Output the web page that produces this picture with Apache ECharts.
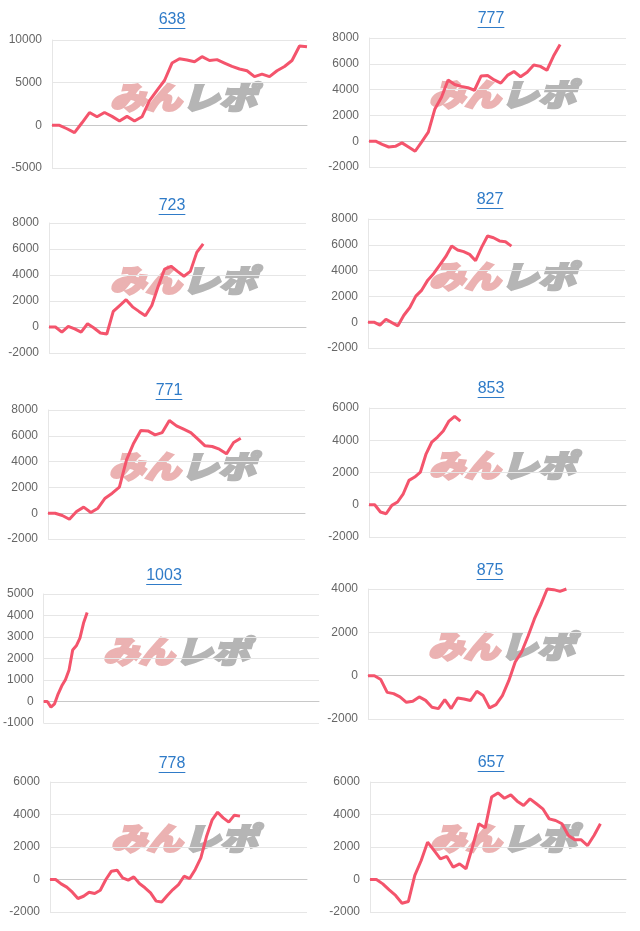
<!DOCTYPE html>
<html>
<head>
<meta charset="utf-8">
<script src="https://cdn.jsdelivr.net/npm/echarts@6/dist/echarts.min.js"></script>
<style>
  html, body { margin: 0; padding: 0; background: #fff; }
  #chart { width: 640px; height: 931px; }
</style>
</head>
<body>
<div id="chart"></div>
<script>
// machine numbers (chart titles)
const titles = ['638', '777', '723', '827', '771', '853', '1003', '875', '778', '657']

// how many slots each x axis has
const slotCounts = [35, 40, 41, 44, 37, 46, 77, 41, 47, 41]

// y axis ticks
const yMins = [-5000, -2000, -2000, -2000, -2000, -2000, -1000, -2000, -2000, -2000]
const yMaxs = [10000, 8000, 8000, 8000, 8000, 6000, 5000, 4000, 6000, 6000]
const ySteps = [5000, 2000, 2000, 2000, 2000, 2000, 1000, 2000, 2000, 2000]

// payout per machine
const data638 = [0, 0, -400, -850, 300, 1500, 1000, 1500, 1050, 500, 1050, 500, 1000, 2900, 4100, 5250, 7300, 7800, 7650, 7450, 8050, 7600, 7700, 7300, 6900, 6600, 6400, 5700, 6000, 5700, 6400, 6900, 7600, 9300, 9200]
const data777 = [0, 0, -250, -450, -400, -130, -450, -780, -50, 700, 2500, 3400, 4750, 4400, 4250, 4150, 3950, 5050, 5100, 4750, 4500, 5100, 5400, 5000, 5350, 5900, 5800, 5500, 6600, 7500]
const data723 = [0, 0, -400, 50, -150, -400, 250, -80, -460, -540, 1200, 1650, 2100, 1550, 1200, 870, 1650, 3130, 4460, 4670, 4280, 3900, 4280, 5740, 6400]
const data827 = [0, 0, -230, 230, -30, -280, 540, 1140, 2020, 2490, 3260, 3780, 4430, 5080, 5900, 5600, 5470, 5260, 4770, 5800, 6680, 6550, 6300, 6240, 5900]
const data771 = [0, 0, -180, -470, 130, 470, 50, 390, 1160, 1550, 2020, 4130, 5430, 6410, 6380, 6070, 6250, 7180, 6770, 6510, 6250, 5740, 5220, 5170, 4960, 4600, 5480, 5810]
const data853 = [0, 0, -450, -560, -40, 170, 680, 1510, 1720, 2030, 3160, 3890, 4200, 4570, 5190, 5480, 5190]
const data1003 = [0, 0, -260, -110, 360, 730, 1010, 1470, 2400, 2590, 2950, 3650, 4140]
const data875 = [0, 0, -180, -770, -830, -980, -1230, -1180, -980, -1140, -1460, -1520, -1110, -1520, -1030, -1080, -1150, -720, -920, -1490, -1340, -920, -230, 630, 1090, 1820, 2620, 3280, 4000, 3970, 3890, 4000]
const data778 = [0, 0, -270, -470, -780, -1170, -1030, -780, -860, -660, 0, 510, 570, 100, -40, 160, -250, -510, -820, -1330, -1390, -980, -620, -310, 200, 60, 620, 1330, 2630, 3650, 4140, 3790, 3530, 3960, 3900]
const data657 = [0, 0, -270, -640, -980, -1460, -1350, 250, 1170, 2300, 1790, 1270, 1420, 760, 960, 660, 1990, 3430, 3180, 5070, 5330, 5000, 5210, 4820, 4550, 4960, 4660, 4350, 3730, 3630, 3430, 2710, 2440, 2440, 2090, 2710, 3430]

const allData = [data638, data777, data723, data827, data771, data853, data1003, data875, data778, data657]

// layout: plot boxes [x0, y0, x1, y1], title centres, watermark centres
const boxes = [
    [52, 40, 307, 168], [369, 38, 626, 167],
    [49, 223, 306, 353], [368, 219, 625, 348],
    [48, 410, 305, 539], [369, 408, 626, 537],
    [42, 594, 319, 723], [368, 589, 624, 719],
    [50, 782, 307, 912], [370, 782, 626, 912]
]
const titlePos = [
    [172, 21], [491, 20], [172, 207], [490, 201], [169, 392],
    [491, 390], [164, 577], [490, 572], [172, 765], [491, 764]
]
const markPos = [
    [188, 97], [507, 94], [188, 280], [507, 276], [187, 466],
    [507, 465], [181, 651], [506, 646], [189, 838], [508, 838]
]

const LINK = '#2f7bc8'
const LINE = '#f4546c'
const TITLE_SIZE = 16
const MARK_FONT = 'italic 900 31px "Noto Sans CJK JP"'

const grids = [], xAxes = [], yAxes = [], series = [], titleList = [], graphics = []

titles.forEach((name, i) => {
    const [x0, y0, x1, y1] = boxes[i]
    grids.push({ left: x0, top: y0, width: x1 - x0, height: y1 - y0 })
    xAxes.push({
        type: 'category',
        gridIndex: i,
        boundaryGap: false,
        data: Array.from({ length: slotCounts[i] }, (_, k) => String(k + 1)),
        axisLine: { show: true, onZero: true, lineStyle: { color: '#c8c8c8', width: 1 } },
        axisTick: { show: false },
        axisLabel: { show: false },
        splitLine: { show: false }
    })
    yAxes.push({
        type: 'value',
        gridIndex: i,
        min: yMins[i],
        max: yMaxs[i],
        interval: ySteps[i],
        axisLine: { show: true, lineStyle: { color: '#e6e6e6' } },
        axisTick: { show: false },
        axisLabel: {
            color: '#666',
            fontSize: 12,
            margin: 10,
            fontFamily: 'Liberation Sans, Arial, sans-serif',
            formatter: (v) => String(v)
        },
        splitLine: { lineStyle: { color: '#e6e6e6' } }
    })
    series.push({
        type: 'line',
        xAxisIndex: i,
        yAxisIndex: i,
        data: allData[i],
        symbol: 'none',
        clip: false,
        z: 5,
        lineStyle: { color: LINE, width: 3 }
    })

    const [tx, ty] = titlePos[i]
    titleList.push({
        text: name,
        left: tx,
        top: ty - TITLE_SIZE / 2 - 1,
        textAlign: 'center',
        padding: 0,
        textStyle: { color: LINK, fontSize: TITLE_SIZE, fontWeight: 'normal', fontFamily: 'Liberation Sans, Arial, sans-serif' }
    })
    const w = name.length * TITLE_SIZE * 0.556
    graphics.push({
        type: 'line',
        shape: { x1: tx - w / 2, y1: ty + 7.5, x2: tx + w / 2, y2: ty + 7.5 },
        style: { stroke: LINK, lineWidth: 1 },
        z: 10
    })

    // watermark (みんレポ logo), drawn as heavy slanted text under the line
    const [mx, my] = markPos[i]
    graphics.push({
        type: 'group',
        x: mx,
        y: my,
        z: 1,
        children: [
            {
                type: 'text',
                x: -78,
                y: 0,
                scaleX: 1.15,
                style: {
                    text: 'みん',
                    fill: '#ebb2b2',
                    stroke: '#ebb2b2',
                    lineWidth: 2.5,
                    font: MARK_FONT,
                    textAlign: 'left',
                    textVerticalAlign: 'middle'
                }
            },
            {
                type: 'text',
                x: -6,
                y: 0,
                scaleX: 1.2,
                style: {
                    text: 'レポ',
                    fill: '#b5b5b5',
                    stroke: '#b5b5b5',
                    lineWidth: 2.5,
                    font: MARK_FONT,
                    textAlign: 'left',
                    textVerticalAlign: 'middle'
                }
            }
        ]
    })
})

const myChart = echarts.init(document.getElementById('chart'))
myChart.setOption({
    animation: false,
    title: titleList,
    grid: grids,
    xAxis: xAxes,
    yAxis: yAxes,
    series: series,
    graphic: graphics
})
</script>
</body>
</html>
